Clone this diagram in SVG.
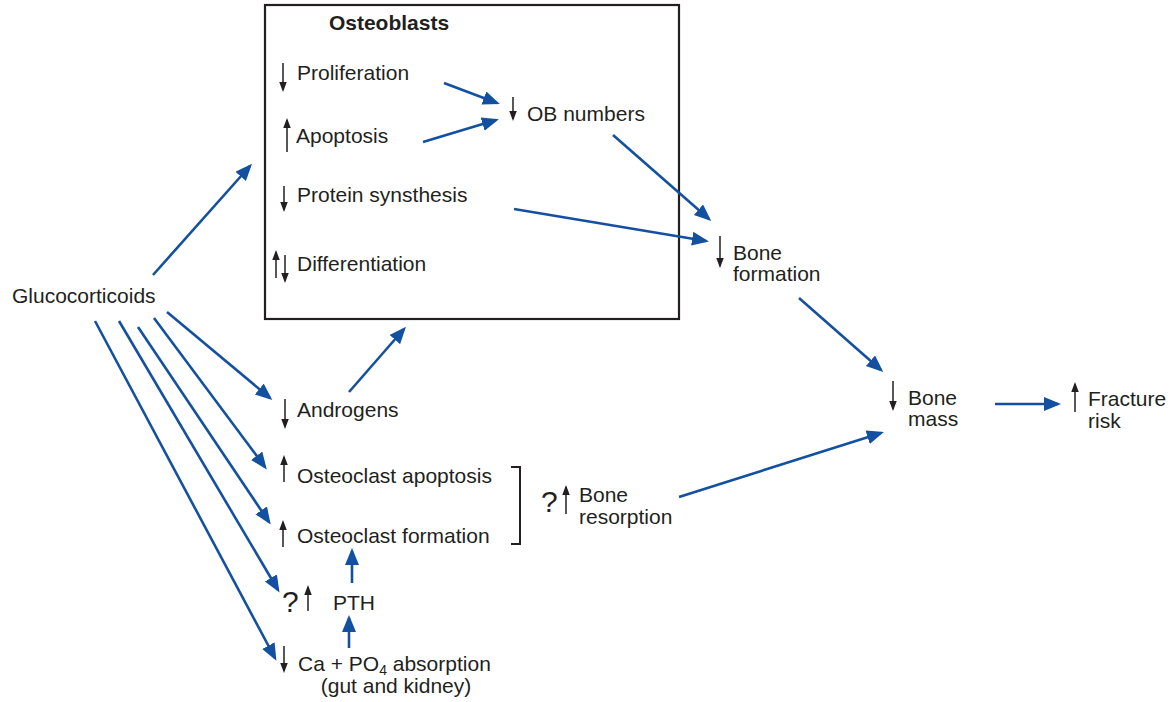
<svg xmlns="http://www.w3.org/2000/svg" width="1171" height="702" viewBox="0 0 1171 702">
<style>
text{font-family:"Liberation Sans",Arial,sans-serif;font-size:21px;fill:#231f20}
.b{font-weight:bold}
.q{font-size:30px}
.c line{stroke:#1450a0;stroke-width:2.6;marker-end:url(#ah)}
.k line{stroke:#231f20;stroke-width:1.5;marker-end:url(#sh)}
</style>
<defs>
<marker id="ah" markerUnits="userSpaceOnUse" markerWidth="20" markerHeight="16" refX="14" refY="7" orient="auto">
<path d="M0,0 L17,7 L0,14 Z" fill="#1450a0"/>
</marker>
<marker id="sh" markerUnits="userSpaceOnUse" markerWidth="11" markerHeight="10" refX="8" refY="3.75" orient="auto">
<path d="M0,0 L10,3.75 L0,7.5 Z" fill="#231f20"/>
</marker>
</defs>
<rect width="1171" height="702" fill="#fff"/>

<g id="osteoblasts-box">
<rect x="265" y="5" width="414" height="314" fill="none" stroke="#231f20" stroke-width="2.2"/>
<text class="b" x="389" y="30" text-anchor="middle">Osteoblasts</text>
</g>
<g id="proliferation" class="k"><line x1="283" y1="63" x2="283" y2="90"/><text x="297" y="80">Proliferation</text></g>
<g id="apoptosis" class="k"><line x1="287" y1="152" x2="287" y2="120"/><text x="296" y="143">Apoptosis</text></g>
<g id="protein-synthesis" class="k"><line x1="284" y1="186" x2="284" y2="210"/><text x="297" y="202">Protein synsthesis</text></g>
<g id="differentiation" class="k"><line x1="276" y1="278" x2="276" y2="252"/><line x1="285" y1="255" x2="285" y2="281"/><text x="297" y="271">Differentiation</text></g>
<g id="ob-numbers" class="k"><line x1="513" y1="97" x2="513" y2="119"/><text x="527" y="121">OB numbers</text></g>
<g id="bone-formation" class="k"><line x1="720" y1="236" x2="720" y2="266"/><text x="733" y="260">Bone</text><text x="733" y="281">formation</text></g>
<g id="bone-mass" class="k"><line x1="893" y1="381" x2="893" y2="409"/><text x="908" y="405">Bone</text><text x="908" y="426">mass</text></g>
<g id="fracture-risk" class="k"><line x1="1075" y1="412" x2="1075" y2="384"/><text x="1088" y="406">Fracture</text><text x="1088" y="428">risk</text></g>
<g id="glucocorticoids"><text x="12" y="303">Glucocorticoids</text></g>
<g id="androgens" class="k"><line x1="285" y1="399" x2="285" y2="427"/><text x="297" y="417">Androgens</text></g>
<g id="osteoclast-apoptosis" class="k"><line x1="284" y1="482" x2="284" y2="457"/><text x="297" y="483">Osteoclast apoptosis</text></g>
<g id="osteoclast-formation" class="k"><line x1="283" y1="547" x2="283" y2="522"/><text x="297" y="543">Osteoclast formation</text></g>
<g id="bone-resorption" class="k">
<path d="M511,467 H520 V544 H511" fill="none" stroke="#231f20" stroke-width="2"/>
<text class="q" x="541" y="512">?</text>
<line x1="566" y1="514" x2="566" y2="487"/>
<text x="579" y="502">Bone</text><text x="579" y="524">resorption</text>
</g>
<g id="pth" class="k"><text class="q" x="282" y="612">?</text><line x1="308" y1="611" x2="308" y2="587"/><text x="333" y="610">PTH</text></g>
<g id="ca-po4" class="k"><line x1="284" y1="646" x2="284" y2="671"/>
<text x="298" y="671">Ca + PO<tspan dy="4" font-size="14">4</tspan><tspan dy="-4"> absorption</tspan></text>
<text x="396" y="693" text-anchor="middle">(gut and kidney)</text></g>

<g id="connectors" class="c">
<line x1="444" y1="83" x2="497" y2="103"/>
<line x1="423" y1="142" x2="496" y2="120"/>
<line x1="613" y1="135" x2="709" y2="219"/>
<line x1="514" y1="209" x2="706" y2="241"/>
<line x1="799" y1="298" x2="881" y2="370"/>
<line x1="995" y1="404" x2="1058" y2="404"/>
<line x1="679" y1="497" x2="881" y2="433"/>
<line x1="153" y1="275" x2="250" y2="166"/>
<line x1="167" y1="312" x2="270" y2="398"/>
<line x1="154" y1="318" x2="265" y2="467"/>
<line x1="138" y1="327" x2="269" y2="522"/>
<line x1="119" y1="321" x2="278" y2="590"/>
<line x1="95" y1="321" x2="275" y2="658"/>
<line x1="349" y1="392" x2="404" y2="329"/>
<line x1="352" y1="583" x2="352" y2="551"/>
<line x1="349" y1="648" x2="349" y2="618"/>
</g>
</svg>
